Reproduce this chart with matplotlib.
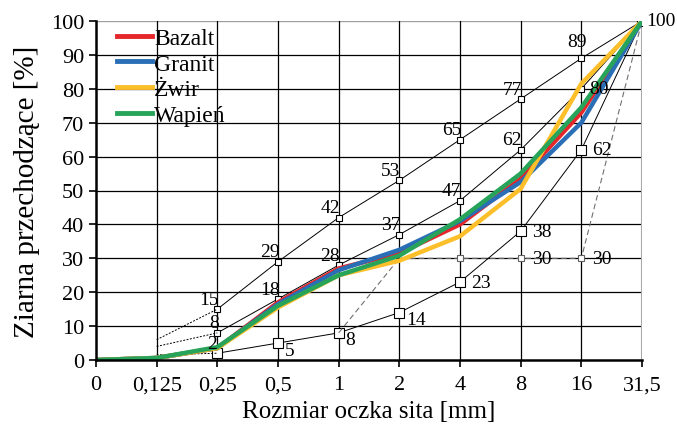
import matplotlib
matplotlib.use('Agg')
import numpy as np
import matplotlib.pyplot as plt

# === data ===
sieves = ["0", "0,125", "0,25", "0,5", "1", "2", "4", "8", "16", "31,5"]

# aggregate curves (index 0..9 -> sieves)
bazalt = [0, 0.6, 3.5, 17, 27, 31.5, 40, 53.5, 73, 100]
granit = [0, 0.6, 3.5, 16.5, 26.5, 32.5, 41, 52.5, 70, 100]
zwir = [0, 0.6, 3.5, 15.5, 25, 29.3, 36.5, 50.5, 81.5, 100]
wapien = [0, 0.6, 3.8, 16, 25, 30.8, 41.5, 55, 74.5, 100]

# boundary curves, from sieve 0,25 upwards
upper_lim = [15, 29, 42, 53, 65, 77, 89, 100]
middle_lim = [8, 18, 28, 37, 47, 62, 80, 100]
lower_lim = [2, 5, 8, 14, 23, 38, 62, 100]
# dotted extension at 0,125
upper_start, middle_start, lower_start = 6, 4, 1.5

# dashed curve: sieve index -> value
dash_x = [4, 5, 6, 7, 8, 9]
dash_y = [8, 30, 30, 30, 30, 100]

# === figure ===
plt.rcParams['font.family'] = ['Liberation Serif', 'DejaVu Serif']
fig = plt.figure(figsize=(6.77, 4.35), dpi=100)
ax = fig.add_axes([96 / 677, 74 / 435, 546 / 677, 339 / 435])

xi = np.arange(len(sieves))

# grid
for v in range(10, 100, 10):
    ax.axhline(v, color='black', lw=0.9, zorder=1)
ax.axhline(100, color='#a0a0a0', lw=1.0, zorder=1)
for i in xi[1:-1]:
    ax.axvline(i, color='black', lw=0.9, zorder=1)
ax.axvline(9, color='#a8a8a8', lw=1.5, zorder=1)

# boundary curves
bx = xi[2:]
mk = dict(marker='s', mfc='white', mec='black', mew=0.8)
ax.plot(bx, upper_lim, color='black', lw=0.7, ms=5, zorder=2, **mk)
ax.plot(bx, middle_lim, color='black', lw=0.7, ms=5, zorder=2, **mk)
ax.plot(bx, lower_lim, color='black', lw=0.7, ms=7, zorder=2, **mk)
for s, v in [(upper_start, upper_lim[0]), (middle_start, middle_lim[0]),
             (lower_start, lower_lim[0])]:
    ax.plot([1, 2], [s, v], color='black', lw=0.7, ls=(0, (2, 1.5)), zorder=2)

ax.plot(dash_x, dash_y, color='#707070', lw=0.8, ls=(0, (5, 3)), zorder=2)
ax.plot(dash_x[2:5], dash_y[2:5], ls='none', ms=5, zorder=3,
        marker='s', mfc='white', mec='#606060', mew=0.8)

# main curves
series = [("Bazalt", bazalt, '#e5262a'), ("Granit", granit, '#2a6fb6'),
          ("Żwir", zwir, '#fcbf2a'), ("Wapień", wapien, '#27a35a')]
for name, vals, col in series:
    ax.plot(xi, vals, color=col, lw=3.2, label=name, zorder=4,
            solid_joinstyle='miter')

# labels of boundary curves
fs = 14
def lab(x, y, txt, dx, dy, ha, va):
    ax.annotate(txt, (x, y), xytext=(dx, dy), textcoords='offset points',
                ha=ha, va=va, fontsize=fs, zorder=5)

for x, v in zip(bx[:-1], upper_lim[:-1]):
    if v == 89:
        lab(x, v, str(v), 4, 6, 'right', 'bottom')
    else:
        lab(x, v, str(v), 1, 1, 'right', 'bottom')
for x, v in zip(bx[:-1], middle_lim[:-1]):
    if v == 80:
        lab(x, v, str(v), 6, 0, 'left', 'center')
    else:
        lab(x, v, str(v), 1, 1, 'right', 'bottom')
for x, v in zip(bx[:-1], lower_lim[:-1]):
    if v == 2:
        lab(x, v, str(v), 0, 1, 'right', 'bottom')
    elif v in (5, 8, 14):
        lab(x, v, str(v), 5, 1, 'left', 'top')
    else:
        lab(x, v, str(v), 8, 0, 'left', 'center')
for x, v in zip(dash_x[3:5], dash_y[3:5]):
    lab(x, v, str(v), 8, 0, 'left', 'center')
lab(9, 100, "100", 3, 0, 'left', 'center')

# axes
ax.set_xlim(0, 9)
ax.set_ylim(0, 100)
ax.set_xticks(xi)
ax.set_xticklabels(sieves)
ax.set_yticks(np.arange(0, 101, 10))
ax.tick_params(axis='both', labelsize=16, length=5, width=1.2, color='black')
ax.tick_params(axis='x', pad=6)
for side in ['top', 'right']:
    ax.spines[side].set_visible(False)
for side in ['left', 'bottom']:
    ax.spines[side].set_linewidth(1.8)
    ax.spines[side].set_zorder(6)

ax.set_xlabel("Rozmiar oczka sita [mm]", fontsize=18, labelpad=4)
ax.set_ylabel("Ziarna przechodzące [%]", fontsize=21, labelpad=8)

leg = ax.legend(loc='upper left', bbox_to_anchor=(0.022, 1.009), frameon=False,
                fontsize=17, handlelength=1.45, handletextpad=0.1,
                labelspacing=0.18, borderaxespad=0)
for h in leg.get_lines():
    h.set_linewidth(3.5)

fig.savefig("out.png", dpi=100)
